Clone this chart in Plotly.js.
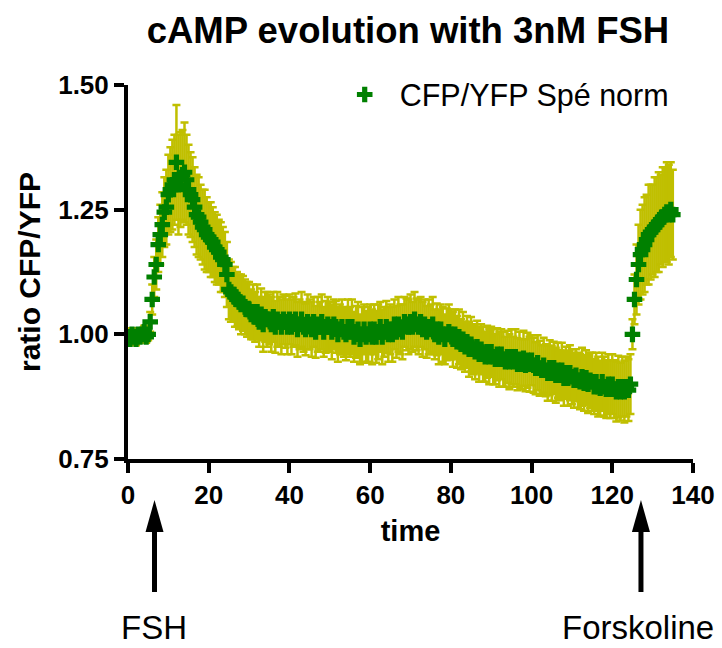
<!DOCTYPE html>
<html>
<head>
<meta charset="utf-8">
<script src="https://cdn.plot.ly/plotly-3.0.1.min.js"></script>
<style>
html,body{margin:0;padding:0;background:#fff;}
#chart{width:722px;height:648px;}
</style>
</head>
<body>
<div id="chart"></div>
<script>
var time = [
0,0.5,1,1.5,2,2.5,3,3.5,4,4.5,
5,5.5,6,6.5,7,7.5,8,8.5,9,9.5,
10,10.5,11,11.5,12,12.5,13,13.5,14,14.5,
15,15.5,16,16.5,17,17.5,18,18.5,19,19.5,
20,20.5,21,21.5,22,22.5,23,23.5,24,24.5,
25,25.5,26,26.5,27,27.5,28,28.5,29,29.5,
30,30.5,31,31.5,32,32.5,33,33.5,34,34.5,
35,35.5,36,36.5,37,37.5,38,38.5,39,39.5,
40,40.5,41,41.5,42,42.5,43,43.5,44,44.5,
45,45.5,46,46.5,47,47.5,48,48.5,49,49.5,
50,50.5,51,51.5,52,52.5,53,53.5,54,54.5,
55,55.5,56,56.5,57,57.5,58,58.5,59,59.5,
60,60.5,61,61.5,62,62.5,63,63.5,64,64.5,
65,65.5,66,66.5,67,67.5,68,68.5,69,69.5,
70,70.5,71,71.5,72,72.5,73,73.5,74,74.5,
75,75.5,76,76.5,77,77.5,78,78.5,79,79.5,
80,80.5,81,81.5,82,82.5,83,83.5,84,84.5,
85,85.5,86,86.5,87,87.5,88,88.5,89,89.5,
90,90.5,91,91.5,92,92.5,93,93.5,94,94.5,
95,95.5,96,96.5,97,97.5,98,98.5,99,99.5,
100,100.5,101,101.5,102,102.5,103,103.5,104,104.5,
105,105.5,106,106.5,107,107.5,108,108.5,109,109.5,
110,110.5,111,111.5,112,112.5,113,113.5,114,114.5,
115,115.5,116,116.5,117,117.5,118,118.5,119,119.5,
120,120.5,121,121.5,122,122.5,123,123.5,124,124.5,
125,125.5,126,126.5,127,127.5,128,128.5,129,129.5,
130,130.5,131,131.5,132,132.5,133,133.5,134,134.5,
135];

var ratioCFPYFP = [
0.995,0.99,1.0,0.995,0.99,1.0,0.995,1.0,1.005,0.995,
1.0,1.025,1.07,1.115,1.14,1.18,1.2,1.22,1.245,1.255,
1.28,1.29,1.30,1.31,1.345,1.30,1.31,1.32,1.325,1.31,
1.29,1.28,1.27,1.255,1.24,1.235,1.225,1.215,1.21,1.2,
1.195,1.19,1.185,1.175,1.17,1.165,1.155,1.15,1.14,1.12,
1.09,1.085,1.08,1.075,1.07,1.065,1.06,1.062,1.055,1.05,
1.05,1.04,1.045,1.035,1.045,1.025,1.04,1.02,1.035,1.03,
1.03,1.02,1.035,1.015,1.03,1.025,1.015,1.03,1.025,1.015,
1.03,1.015,1.025,1.03,1.01,1.02,1.03,1.015,1.01,1.025,
1.02,1.01,1.025,1.005,1.02,1.015,1.025,1.005,1.015,1.02,
1.015,1.005,1.02,1.015,1.0,1.01,1.015,1.005,1.0,1.015,
1.005,1.015,0.995,1.005,1.01,0.99,1.0,1.01,0.995,1.0,
1.01,0.995,1.01,0.995,1.005,1.015,0.995,1.005,1.015,1.0,
1.01,1.0,1.02,1.005,1.02,1.01,1.005,1.025,1.02,1.015,
1.025,1.015,1.03,1.02,1.015,1.025,1.01,1.02,1.005,1.015,
1.01,1.02,1.0,1.01,0.995,1.01,1.0,0.99,1.0,1.005,
1.0,0.99,1.0,0.985,0.995,0.98,0.99,0.975,0.985,0.97,
0.98,0.97,0.965,0.975,0.96,0.97,0.96,0.955,0.965,0.955,
0.965,0.955,0.95,0.96,0.95,0.96,0.95,0.945,0.955,0.945,
0.955,0.945,0.955,0.94,0.95,0.94,0.952,0.938,0.948,0.94,
0.948,0.938,0.932,0.943,0.932,0.928,0.938,0.928,0.922,0.933,
0.922,0.933,0.918,0.928,0.918,0.928,0.912,0.923,0.912,0.923,
0.915,0.908,0.918,0.908,0.905,0.915,0.902,0.913,0.9,0.908,
0.905,0.895,0.905,0.895,0.892,0.905,0.895,0.89,0.9,0.89,
0.9,0.89,0.885,0.895,0.885,0.895,0.885,0.895,0.888,0.9,
1.0,1.07,1.11,1.14,1.16,1.17,1.18,1.19,1.2,1.205,
1.21,1.215,1.22,1.225,1.23,1.235,1.24,1.245,1.24,1.25,
1.24];

var sem = [
0.01,0.01,0.012,0.01,0.012,0.01,0.012,0.01,0.012,0.012,
0.012,0.02,0.03,0.04,0.05,0.055,0.06,0.065,0.07,0.075,
0.08,0.085,0.09,0.09,0.115,0.1,0.095,0.09,0.1,0.09,
0.09,0.085,0.085,0.08,0.08,0.08,0.075,0.075,0.08,0.075,
0.07,0.075,0.07,0.07,0.07,0.065,0.07,0.065,0.065,0.065,
0.06,0.06,0.055,0.06,0.055,0.055,0.06,0.055,0.055,0.055,
0.055,0.05,0.055,0.05,0.055,0.05,0.052,0.055,0.05,0.055,
0.05,0.055,0.05,0.052,0.055,0.05,0.055,0.05,0.052,0.055,
0.05,0.055,0.05,0.052,0.055,0.05,0.055,0.05,0.052,0.055,
0.05,0.055,0.05,0.052,0.055,0.05,0.055,0.05,0.052,0.055,
0.05,0.055,0.05,0.052,0.055,0.05,0.055,0.05,0.052,0.055,
0.05,0.055,0.05,0.052,0.055,0.05,0.055,0.05,0.052,0.055,
0.05,0.055,0.05,0.052,0.055,0.05,0.055,0.05,0.052,0.055,
0.05,0.055,0.05,0.052,0.055,0.05,0.055,0.05,0.052,0.055,
0.055,0.05,0.055,0.052,0.055,0.05,0.055,0.05,0.052,0.055,
0.05,0.055,0.05,0.052,0.055,0.05,0.055,0.05,0.052,0.055,
0.05,0.055,0.05,0.052,0.055,0.05,0.055,0.05,0.052,0.055,
0.055,0.05,0.055,0.052,0.055,0.05,0.055,0.05,0.052,0.055,
0.05,0.055,0.05,0.052,0.055,0.05,0.055,0.05,0.052,0.055,
0.055,0.05,0.055,0.052,0.055,0.05,0.055,0.052,0.055,0.055,
0.05,0.055,0.052,0.055,0.055,0.05,0.055,0.052,0.055,0.055,
0.055,0.052,0.055,0.055,0.05,0.055,0.055,0.052,0.055,0.055,
0.055,0.055,0.052,0.055,0.055,0.058,0.055,0.055,0.058,0.055,
0.058,0.055,0.058,0.06,0.055,0.058,0.06,0.058,0.06,0.058,
0.06,0.058,0.06,0.062,0.058,0.06,0.062,0.06,0.062,0.06,
0.03,0.05,0.07,0.08,0.09,0.09,0.095,0.09,0.1,0.095,
0.09,0.1,0.095,0.1,0.09,0.1,0.095,0.1,0.1,0.095,
0.09];

var xTicks = [0,20,40,60,80,100,120,140];
var yTicks = [0.75,1.00,1.25,1.50];

var FONT = "'Liberation Sans', Arial, Helvetica, sans-serif";

var traces = [
  {
    x: time, y: ratioCFPYFP, type: 'scatter', mode: 'markers',
    marker: {size: 13, opacity: 0, color: '#008000'},
    error_y: {type: 'data', array: sem, visible: true, color: '#c0bf00', thickness: 2.5, width: 4},
    showlegend: false, hoverinfo: 'skip'
  },
  {
    x: time, y: ratioCFPYFP, type: 'scatter', mode: 'markers',
    name: 'CFP/YFP Spé norm',
    marker: {symbol: 'cross', size: 13, color: '#008000', line: {width: 0}}
  }
];

var layout = {
  width: 722, height: 648,
  margin: {l: 128, r: 29, t: 85, b: 189},
  paper_bgcolor: '#ffffff', plot_bgcolor: '#ffffff',
  font: {family: FONT, color: '#000000'},
  title: {
    text: 'cAMP evolution with 3nM FSH',
    font: {family: FONT, size: 36.5, weight: 'bold', color: '#000000'},
    x: 0.565, xanchor: 'center', y: 0.954, yanchor: 'middle'
  },
  xaxis: {
    range: [0, 140], tickvals: xTicks, ticktext: xTicks.map(String),
    showline: true, linewidth: 4, linecolor: '#000000',
    ticks: 'outside', ticklen: 10, tickwidth: 4, tickcolor: '#000000',
    showgrid: false, zeroline: false,
    tickfont: {family: FONT, size: 26, weight: 'bold', color: '#000000'},
    title: {text: 'time', standoff: 12, font: {family: FONT, size: 29, weight: 'bold', color: '#000000'}}
  },
  yaxis: {
    range: [0.75, 1.5], tickvals: yTicks, tickformat: '.2f',
    showline: true, linewidth: 4, linecolor: '#000000',
    ticks: 'outside', ticklen: 10, tickwidth: 4, tickcolor: '#000000',
    showgrid: false, zeroline: false,
    tickfont: {family: FONT, size: 26, weight: 'bold', color: '#000000'},
    title: {text: 'ratio CFP/YFP', standoff: 10, font: {family: FONT, size: 30, weight: 'bold', color: '#000000'}}
  },
  legend: {
    x: 0.357, xanchor: 'left', y: 1.045, yanchor: 'top',
    itemwidth: 60,
    bgcolor: 'rgba(0,0,0,0)', borderwidth: 0,
    font: {family: FONT, size: 30.5, color: '#000000'}
  },
  shapes: [
    {type: 'line', xref: 'paper', yref: 'paper', x0: 0.0469, x1: 0.0469, y0: -0.19, y1: -0.3556, line: {color: '#000000', width: 5}},
    {type: 'path', xref: 'paper', yref: 'paper', path: 'M 0.0469,-0.1096 L 0.0310,-0.1952 L 0.0629,-0.1952 Z', fillcolor: '#000000', line: {width: 0}},
    {type: 'line', xref: 'paper', yref: 'paper', x0: 0.9079, x1: 0.9079, y0: -0.19, y1: -0.3556, line: {color: '#000000', width: 5}},
    {type: 'path', xref: 'paper', yref: 'paper', path: 'M 0.9079,-0.1096 L 0.8919,-0.1952 L 0.9238,-0.1952 Z', fillcolor: '#000000', line: {width: 0}}
  ],
  annotations: [
    {text: 'FSH', xref: 'paper', yref: 'paper', x: 0.0469, y: -0.5045, xanchor: 'center', yanchor: 'bottom', showarrow: false, font: {family: FONT, size: 33, color: '#000000'}},
    {text: 'Forskoline', xref: 'paper', yref: 'paper', x: 0.902, y: -0.5045, xanchor: 'center', yanchor: 'bottom', showarrow: false, font: {family: FONT, size: 33, color: '#000000'}}
  ]
};

Plotly.newPlot('chart', traces, layout, {displayModeBar: false, staticPlot: true});
</script>
</body>
</html>
